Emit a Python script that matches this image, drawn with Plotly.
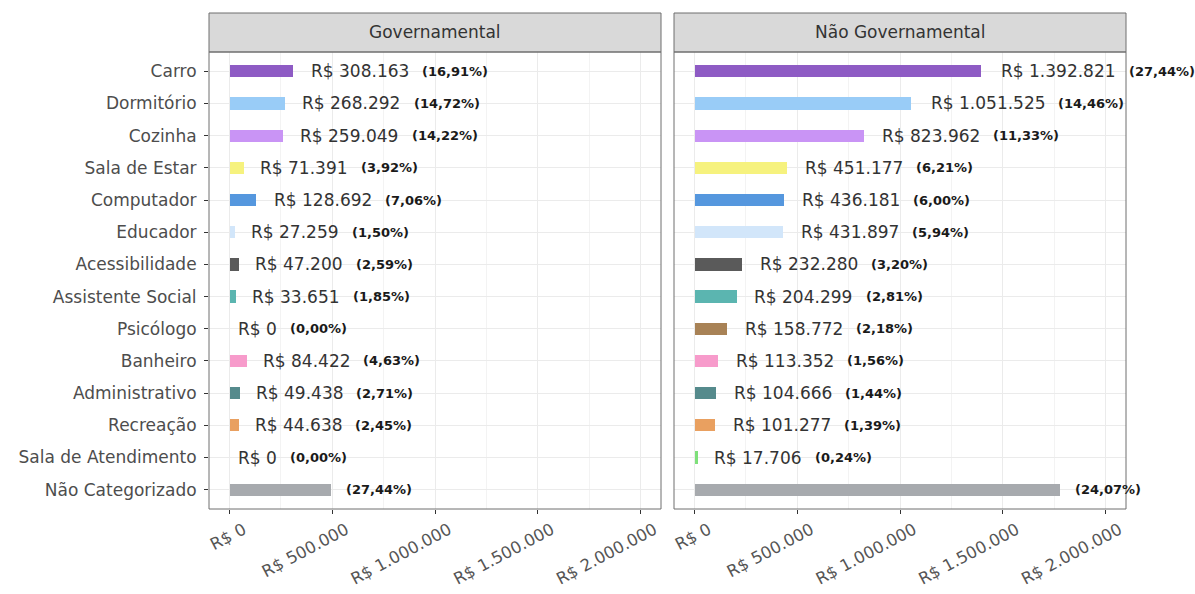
import plotly.graph_objects as go

# ---------------- data ----------------
categories = ["Carro", "Dormitório", "Cozinha", "Sala de Estar", "Computador", "Educador",
              "Acessibilidade", "Assistente Social", "Psicólogo", "Banheiro", "Administrativo",
              "Recreação", "Sala de Atendimento", "Não Categorizado"]
bar_colors = ["#8E5BC4", "#99CCF7", "#C994F5", "#F6F27E", "#5597DE", "#D2E6FA",
              "#5A5A5A", "#5BB5B0", "#A88256", "#F79BCB", "#558A8C",
              "#E9A060", "#7EE07A", "#A7AAAE"]
gov_values = [308163, 268292, 259049, 71391, 128692, 27259, 47200, 33651, 0, 84422,
              49438, 44638, 0, 495000]
gov_pct = ["16,91", "14,72", "14,22", "3,92", "7,06", "1,50", "2,59", "1,85", "0,00",
           "4,63", "2,71", "2,45", "0,00", "27,44"]
ngov_values = [1392821, 1051525, 823962, 451177, 436181, 431897, 232280, 204299, 158772,
               113352, 104666, 101277, 17706, 1780000]
ngov_pct = ["27,44", "14,46", "11,33", "6,21", "6,00", "5,94", "3,20", "2,81", "2,18",
            "1,56", "1,44", "1,39", "0,24", "24,07"]
panel_titles = ["Governamental", "Não Governamental"]
tick_values = [0, 500000, 1000000, 1500000, 2000000]
tick_labels = ["R$ 0", "R$ 500.000", "R$ 1.000.000", "R$ 1.500.000", "R$ 2.000.000"]
minor_values = [250000, 750000, 1250000, 1750000]
no_value_label = "Não Categorizado"

# ---------------- helpers ----------------
FONT = "DejaVu Sans"
VAL_SIZE = 17
PCT_SIZE = 13
REG = {"R": .695, "$": .636, " ": .318, ".": .318}
BOLD = {"(": .457, ")": .457, ",": .38, "%": 1.002}


def brl(v):
    return "R$ " + f"{v:,}".replace(",", ".")


def text_w(s, size, bold=False):
    table = BOLD if bold else REG
    dig = .696 if bold else .636
    return sum(table.get(c, dig) for c in s) * size


W, H = 1195, 594
ml, mr, mt, mb = 209, 69, 13, 85
pw, ph = W - ml - mr, H - mt - mb
panel_w, gap_w = 452, 13
strip_h = 39
panel_h = ph - strip_h

fig = go.Figure()
panels = [("x", "y", gov_values, gov_pct), ("x2", "y2", ngov_values, ngov_pct)]
annotations = []
shapes = []
for i, (xa, ya, vals, pcts) in enumerate(panels):
    fig.add_trace(go.Bar(
        x=vals, y=categories, orientation="h", xaxis=xa, yaxis=ya,
        marker=dict(color=bar_colors, line=dict(width=0)), width=0.38,
        showlegend=False, hoverinfo="skip"))
    for cat, v, p in zip(categories, vals, pcts):
        ptxt = f"({p}%)"
        if cat != no_value_label:
            vtxt = brl(v)
            vw = text_w(vtxt, VAL_SIZE)
            shift = 0.16 * vw
            annotations.append(dict(
                x=v, y=cat, xref=xa, yref=ya, text=vtxt, showarrow=False,
                xanchor="left", yanchor="middle", xshift=shift,
                font=dict(family=FONT, size=VAL_SIZE, color="#333333")))
            pshift = shift + vw + 13
        else:
            pshift = 13
        annotations.append(dict(
            x=v, y=cat, xref=xa, yref=ya, text=f"<b>{ptxt}</b>", showarrow=False,
            xanchor="left", yanchor="middle", xshift=pshift,
            font=dict(family=FONT, size=PCT_SIZE, color="#1A1A1A")))
    xd = f"{xa} domain"
    yd = f"{ya} domain"
    # strip
    shapes.append(dict(type="rect", xref=xd, yref=yd, x0=0, x1=1, y0=1,
                       y1=1 + strip_h / panel_h, fillcolor="#D9D9D9",
                       line=dict(color="#6E6E6E", width=1), layer="above"))
    # panel border
    shapes.append(dict(type="rect", xref=xd, yref=yd, x0=0, x1=1, y0=0, y1=1,
                       fillcolor="rgba(0,0,0,0)",
                       line=dict(color="#6E6E6E", width=1), layer="above"))
    annotations.append(dict(
        x=0.5, y=1 + strip_h / 2 / panel_h, xref=xd, yref=yd, text=panel_titles[i],
        showarrow=False, xanchor="center", yanchor="middle",
        font=dict(family=FONT, size=17, color="#333333")))

xcommon = dict(
    range=[-100000, 2100000], tickmode="array", tickvals=tick_values, ticktext=tick_labels,
    tickangle=-28, ticks="outside", ticklen=4, tickcolor="#333333",
    tickfont=dict(family=FONT, size=16.5, color="#555555"),
    ticklabelshift=14, ticklabelstandoff=0,
    showgrid=True, gridcolor="#EBEBEB", gridwidth=1.1, zeroline=False,
    showline=False, automargin=False,
    minor=dict(tickmode="array", tickvals=minor_values, showgrid=True,
               gridcolor="#F3F3F3", gridwidth=0.6, ticks=""))
ycommon = dict(
    categoryorder="array", categoryarray=categories, range=[13.6, -0.6],
    showgrid=True, gridcolor="#EBEBEB", gridwidth=1.1, zeroline=False, showline=False,
    domain=[0, panel_h / ph], automargin=False)

fig.update_layout(
    width=W, height=H, margin=dict(l=ml, r=mr, t=mt, b=mb, autoexpand=False),
    paper_bgcolor="white", plot_bgcolor="white",
    xaxis=dict(domain=[0, panel_w / pw], anchor="y", **xcommon),
    xaxis2=dict(domain=[(panel_w + gap_w) / pw, 1], anchor="y2", **xcommon),
    yaxis=dict(anchor="x", ticks="outside", ticklen=4, tickcolor="#333333",
               tickfont=dict(family=FONT, size=17, color="#4D4D4D"),
               ticklabelstandoff=4, **ycommon),
    yaxis2=dict(anchor="x2", showticklabels=False, ticks="", **ycommon),
    annotations=annotations, shapes=shapes, bargap=0,
    font=dict(family=FONT),
)

fig.write_html("out.html", config={"displayModeBar": False},
               post_script="document.body.style.margin='0px';")
